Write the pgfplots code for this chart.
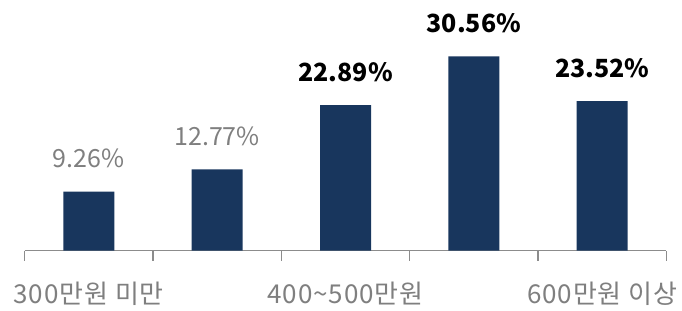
\documentclass[border=0pt]{standalone}
\usepackage{pgfplots}
\pgfplotsset{compat=1.18}
\usepackage{fontspec}
\setmainfont{Noto Sans CJK KR}
\newfontfamily\ticklblfont[LetterSpace=3.5]{Noto Sans CJK KR}
\definecolor{navy}{RGB}{24,54,93}
\definecolor{lblgray}{RGB}{127,127,127}
\definecolor{axgray}{RGB}{140,140,140}
\begin{document}
\begin{tikzpicture}
\path[use as bounding box] (-24.6bp,-60.5bp) rectangle (657.4bp,250.5bp);
\begin{axis}[
  at={(0,0)}, anchor=south west,
  scale only axis, width=641.8bp, height=250.5bp,
  xmin=-0.5, xmax=4.5, ymin=0, ymax=39.45,
  axis x line=bottom, axis y line=none,
  x axis line style={-, axgray, line width=1.6bp},
  xtick={0,2,4},
  xticklabels={300만원 미만, 400\textasciitilde 500만원, 600만원 이상},
  major tick length=0pt,
  minor xtick={-0.5,0.5,1.5,2.5,3.5,4.5},
  minor tick length=10bp,
  tick align=outside,
  minor tick style={axgray, line width=1.6bp},
  xticklabel style={font=\ticklblfont\fontsize{26bp}{30bp}\selectfont, text=lblgray, anchor=base, yshift=-52.5bp},
  clip=false,
  point meta=explicit symbolic,
]
\addplot[ybar, bar width=51bp, bar shift=0pt, fill=navy, draw=none,
  nodes near coords,
  every node near coord/.append style={font=\fontsize{25bp}{30bp}\selectfont, text=lblgray, anchor=base, yshift=24bp}]
  coordinates {(0,9.26) [9.26\%] (1,12.77) [12.77\%]};
\addplot[ybar, bar width=51bp, bar shift=0pt, fill=navy, draw=none,
  nodes near coords,
  every node near coord/.append style={font=\fontsize{25bp}{30bp}\selectfont\bfseries, text=black, anchor=base, yshift=24bp}]
  coordinates {(2,22.89) [22.89\%] (3,30.56) [30.56\%] (4,23.52) [23.52\%]};
\end{axis}
\end{tikzpicture}
\end{document}
